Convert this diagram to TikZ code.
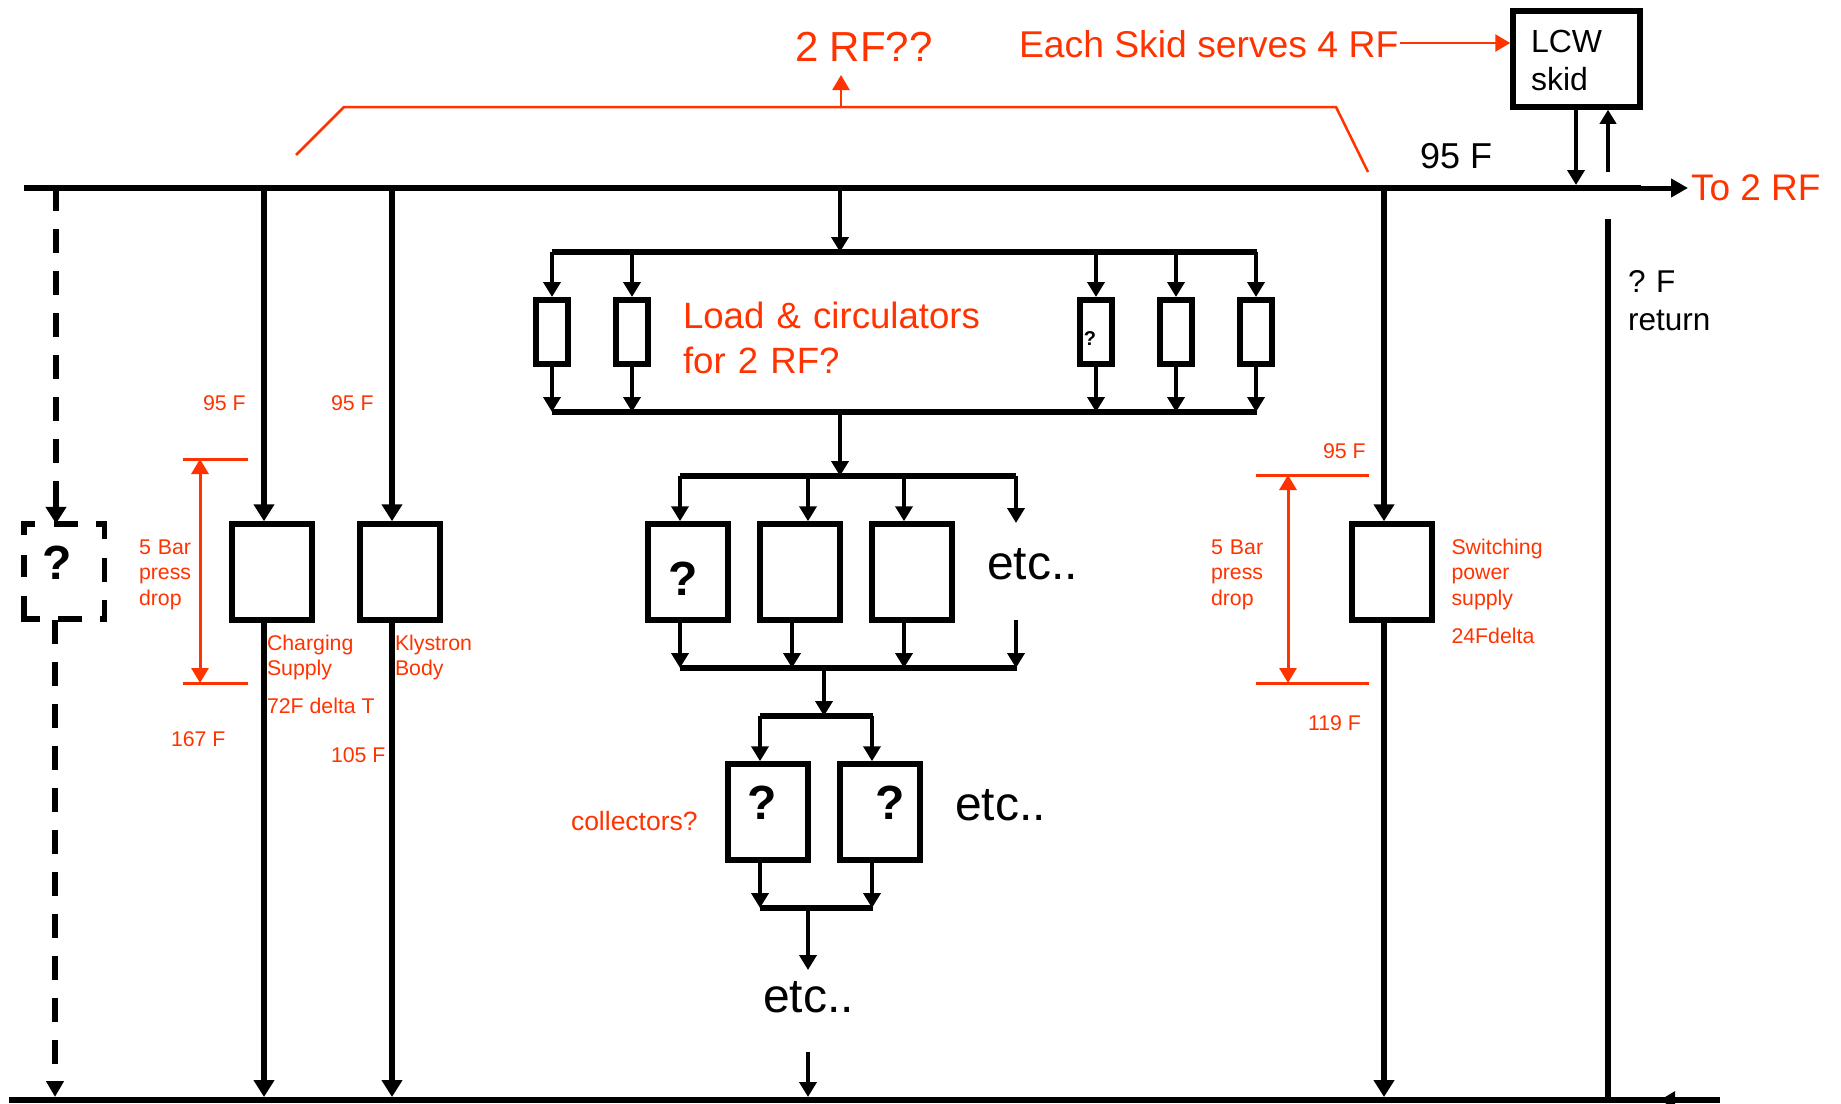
\documentclass[tikz,border=0pt]{standalone}
\usepackage{fontspec}
\setmainfont{Liberation Sans}
\usetikzlibrary{arrows.meta}
\definecolor{redo}{HTML}{FF3300}
\tikzset{
  sz/.style={font=\fontsize{#1}{#1}\selectfont\frenchspacing},
  lbl/.style={anchor=base west,inner sep=0pt,outer sep=0pt},
  redlbl/.style={lbl,text=redo},
  small/.style={redlbl,font=\fontsize{21.3}{25.6}\selectfont},
  smallblock/.style={redlbl,font=\fontsize{21.3}{25.6}\selectfont,text width=110pt,align=left},
  block/.style={draw=black,line width=5.5pt,rectangle,minimum width=80pt,minimum height=96pt,inner sep=0pt},
  slim/.style={draw=black,line width=6pt,rectangle,minimum width=32pt,minimum height=64pt,inner sep=0pt},
  rail/.style={draw=black,line width=6pt,line cap=butt},
  thin rail/.style={draw=black,line width=5.5pt},
  main/.style={draw=black,line width=5.5pt,-{Triangle[length=17pt,width=20pt]}},
  plain/.style={draw=black,line width=5.5pt},
  feed/.style={draw=black,line width=4pt,-{Triangle[length=15pt,width=17pt]}},
  dashline/.style={draw=black,line width=5.5pt,dash pattern=on 24pt off 18pt},
  redarrow/.style={draw=redo,line width=2.5pt,-{Triangle[length=15pt,width=17pt]}},
  reddouble/.style={draw=redo,line width=3pt,{Triangle[length=15pt,width=17pt]}-{Triangle[length=15pt,width=17pt]}},
  redbar/.style={draw=redo,line width=3pt},
  qmark/.style={inner sep=0pt,font=\fontsize{48}{48}\selectfont\bfseries},
}
\begin{document}
\begin{tikzpicture}[x=1pt,y=-1pt]
\useasboundingbox (0,0) rectangle (1841,1103);

% rails
\coordinate (topL) at (24,188);
\coordinate (topR) at (1641,188);
\coordinate (botL) at (9,1100);
\coordinate (botR) at (1720,1100);
\draw[rail] (topL) -- (topR);
\draw[rail] (botL) -- (botR);
\coordinate (toRF) at (1688,188);
\coordinate (toRFs) at (1624,188);
\draw[draw=black,line width=5pt,-{Triangle[length=17pt,width=18pt]}] (toRFs) -- (toRF);
\node[redlbl,sz=37] (t2rf) at (1691,200) {To 2 RF};

% LCW skid
\node[draw=black,line width=5.5pt,rectangle,minimum width=127pt,minimum height=96pt,inner sep=0pt] (skid) at (1576.5,59) {};
\node[lbl,font=\fontsize{32}{38}\selectfont,text width=95pt,align=left] (skidt) at (1531,52) {LCW\\skid};
\coordinate (sd) at (1576,185);
\coordinate (su) at (1608,172);
\draw[draw=black,line width=4.5pt,-{Triangle[length=15pt,width=17pt]}] (sd |- skid.south) -- (sd);
\draw[draw=black,line width=3.5pt,-{Triangle[length=14pt,width=16pt]}] (su) -- (su |- skid.south);
\node[lbl,sz=36] (t95) at (1420,168) {95 F};
\coordinate (retT) at (1608,219);
\coordinate (retB) at (1608,1097);
\draw[plain] (retT) -- (retB);
\node[lbl,font=\fontsize{31.5}{38}\selectfont\frenchspacing,text width=110pt,align=left] (tret) at (1628,292) {? F\\return};
\coordinate (retHs) at (1720,1100);
\coordinate (retHe) at (1660,1100);
\draw[draw=black,line width=3pt,-{Triangle[length=15pt,width=17pt]}] (retHs) -- (retHe);

% top annotations
\node[redlbl,sz=42] (trf) at (795,61) {2 RF??};
\node[redlbl,sz=37.3] (teach) at (1019,57) {Each Skid serves 4 RF};
\coordinate (each) at (1400,43);
\draw[redarrow] (each) -- (each -| skid.west);
\coordinate (brA) at (296,155);
\coordinate (brB) at (344,107);
\coordinate (brC) at (1336,107);
\coordinate (brD) at (1368,172);
\coordinate (brM) at (841,107);
\coordinate (brT) at (841,75);
\draw[draw=redo,line width=2.5pt] (brA) -- (brB) -- (brC) -- (brD);
\draw[redarrow] (brM) -- (brT);

% dashed branch
\node[qmark,minimum width=80pt,minimum height=95pt] (q0) at (64.25,571.5) {};
\node[qmark] (q0t) at (57,562.5) {?};
\draw[draw=black,line width=5.5pt]
  (21,524) -- (35,524) (54,524) -- (78,524) (96,524) -- (107,524)
  (104.5,521) -- (104.5,539) (104.5,558) -- (104.5,582) (104.5,600) -- (104.5,622)
  (107,619) -- (100,619) (82,619) -- (58,619) (40,619) -- (24,619) -- (24,596)
  (24,577) -- (24,555) (24,535) -- (24,521);
\coordinate (dt) at (56,187);
\coordinate (dm) at (56,463);
\coordinate (dn) at (56,481);
\coordinate (db) at (55,620);
\coordinate (dbe) at (55,1097);
\draw[dashline] (dt) -- (dm);
\draw[draw=black,line width=5.5pt,-{Triangle[length=17pt,width=20pt]}] (dn) -- (dn |- q0.north);
\draw[dashline,-{Triangle[length=16pt,width=17pt]}] (db) -- (dbe);

% charging / klystron / switching
\node[block] (cs) at (272,572) {};
\node[block] (kb) at (400,572) {};
\node[block] (sw) at (1392,572) {};
\coordinate (c1) at (264,188); \coordinate (c2) at (264,1097);
\coordinate (k1) at (392,188); \coordinate (k2) at (392,1097);
\coordinate (s1) at (1384,188); \coordinate (s2) at (1384,1097);
\draw[main] (c1) -- (c1 |- cs.north);
\draw[main] (k1) -- (k1 |- kb.north);
\draw[main] (s1) -- (s1 |- sw.north);
\draw[main] (c2 |- cs.south) -- (c2);
\draw[main] (k2 |- kb.south) -- (k2);
\draw[main] (s2 |- sw.south) -- (s2);

% red left dimension
\coordinate (d1a) at (183,459); \coordinate (d1b) at (248,459);
\coordinate (d2a) at (183,683); \coordinate (d2b) at (248,683);
\coordinate (d1t) at (200,459); \coordinate (d1e) at (200,683);
\draw[redbar] (d1a) -- (d1b);
\draw[redbar] (d2a) -- (d2b);
\draw[reddouble] (d1t) -- (d1e);
\node[smallblock] (bar1) at (139,554) {5 Bar\\press\\drop};
\node[small] (f1) at (203,410) {95 F};
\node[small] (f2) at (331,410) {95 F};
\node[smallblock] (csl) at (267,650) {Charging\\Supply};
\node[small] (dl) at (267,713) {72F delta T};
\node[small] (f167) at (171,746) {167 F};
\node[smallblock] (kbl) at (395,650) {Klystron\\Body};
\node[small] (f105) at (331,762) {105 F};

% red right dimension
\coordinate (e1a) at (1256,475); \coordinate (e1b) at (1369,475);
\coordinate (e2a) at (1256,683); \coordinate (e2b) at (1369,683);
\coordinate (e1t) at (1288,475); \coordinate (e1e) at (1288,683);
\draw[redbar] (e1a) -- (e1b);
\draw[redbar] (e2a) -- (e2b);
\draw[reddouble] (e1t) -- (e1e);
\node[smallblock] (bar2) at (1211,554) {5 Bar\\press\\drop};
\node[small] (f3) at (1323,458) {95 F};
\node[small] (f119) at (1308,730) {119 F};
\node[smallblock] (swl) at (1451.5,554) {Switching\\power\\supply};
\node[small] (d24) at (1451.5,643) {24Fdelta};

% loads
\coordinate (ra) at (552,252); \coordinate (rb) at (1257,252);
\coordinate (la) at (552,412); \coordinate (lb) at (1257,412);
\coordinate (mid) at (840,188);
\draw[feed] (mid) -- (mid |- ra);
\draw[rail] (ra) -- (rb);
\draw[rail] (la) -- (lb);
\foreach \n/\x in {l1/552,l2/632,l3/1096,l4/1176,l5/1256}{
  \node[slim] (\n) at (\x,332) {};
  \draw[feed] (\n |- ra) -- (\n.north);
  \draw[feed] (\n.south) -- (\n |- la);
}
\node[inner sep=0pt,font=\fontsize{20}{20}\selectfont\bfseries] (q3) at (1090,339) {?};
\node[redlbl,font=\fontsize{36.6}{45}\selectfont\frenchspacing,text width=320pt,align=left] (loadt) at (683,328) {Load \& circulators\\for 2 RF?};

% second rank
\coordinate (r2a) at (680,476); \coordinate (r2b) at (1016,476);
\draw[feed] (mid |- la) -- (mid |- r2a);
\draw[rail] (r2a) -- (r2b);
\node[block] (b1) at (688,572) {};
\node[block] (b2) at (800,572) {};
\node[block] (b3) at (912,572) {};
\coordinate (r3a) at (680,668); \coordinate (r3b) at (1017,668);
\draw[rail] (r3a) -- (r3b);
\coordinate (x1) at (680,476); \coordinate (x2) at (808,476); \coordinate (x3) at (904,476);
\coordinate (y2) at (792,668);
\draw[feed] (x1) -- (x1 |- b1.north);
\draw[feed] (x2) -- (x2 |- b2.north);
\draw[feed] (x3) -- (x3 |- b3.north);
\draw[feed] (x1 |- b1.south) -- (x1 |- r3a);
\draw[feed] (y2 |- b2.south) -- (y2);
\draw[feed] (x3 |- b3.south) -- (x3 |- r3a);
\coordinate (x4) at (1016,476); \coordinate (x4e) at (1016,523);
\coordinate (x5) at (1016,620); \coordinate (x5e) at (1016,668);
\draw[feed] (x4) -- (x4e);
\draw[feed] (x5) -- (x5e);
\node[qmark] (q1) at (683.5,579) {?};
\node[lbl,sz=48] (etc1) at (987,579) {etc..};

% collectors
\coordinate (r4a) at (760,716); \coordinate (r4b) at (873,716);
\coordinate (r4m) at (824,668);
\draw[feed] (r4m) -- (r4m |- r4a);
\draw[thin rail] (r4a) -- (r4b);
\node[block] (c1b) at (768,812) {};
\node[block] (c2b) at (880,812) {};
\coordinate (r5a) at (760,908); \coordinate (r5b) at (873,908);
\draw[rail] (r5a) -- (r5b);
\coordinate (z1) at (760,716); \coordinate (z2) at (872,716);
\draw[feed] (z1) -- (z1 |- c1b.north);
\draw[feed] (z2) -- (z2 |- c2b.north);
\draw[feed] (z1 |- c1b.south) -- (z1 |- r5a);
\draw[feed] (z2 |- c2b.south) -- (z2 |- r5a);
\node[qmark] (q2) at (762,803) {?};
\node[qmark] (q4) at (890,803) {?};
\node[redlbl,sz=26.5] (coll) at (571,830) {collectors?};
\node[lbl,sz=48] (etc2) at (955,820) {etc..};
\coordinate (w1) at (808,908); \coordinate (w1e) at (808,970);
\coordinate (w2) at (808,1052); \coordinate (w2e) at (808,1097);
\draw[feed] (w1) -- (w1e);
\node[lbl,sz=48] (etc3) at (763,1012) {etc..};
\draw[feed] (w2) -- (w2e);
\end{tikzpicture}
\end{document}
